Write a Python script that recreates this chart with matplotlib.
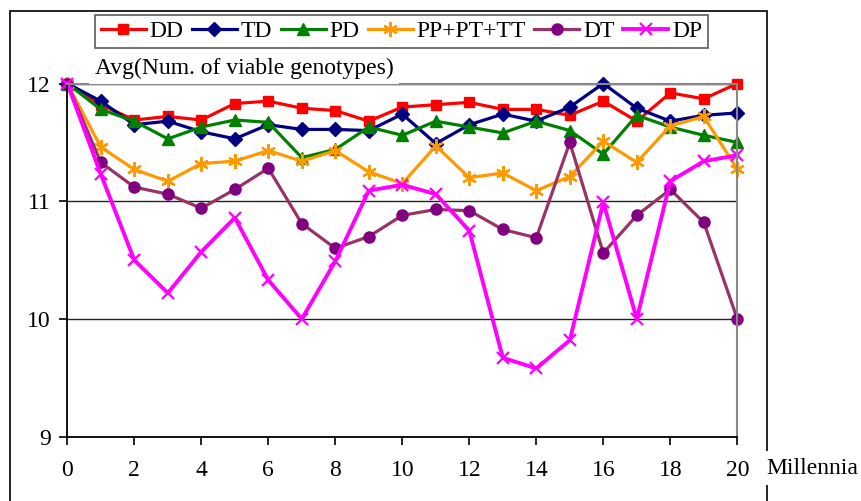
import matplotlib.pyplot as plt
from matplotlib.patches import Rectangle

plt.rcParams['font.family'] = ['Liberation Serif', 'DejaVu Serif']

FS = 17

millennia = list(range(21))

dd = [12.00, 11.82, 11.69, 11.72, 11.69, 11.83, 11.85, 11.79, 11.77, 11.68, 11.80,
      11.82, 11.84, 11.78, 11.78, 11.73, 11.85, 11.68, 11.92, 11.87, 12.00]
td = [12.00, 11.85, 11.65, 11.68, 11.59, 11.53, 11.65, 11.61, 11.61, 11.60, 11.74,
      11.49, 11.65, 11.74, 11.68, 11.80, 12.00, 11.79, 11.68, 11.73, 11.75]
pd_ = [12.00, 11.78, 11.68, 11.53, 11.63, 11.69, 11.67, 11.37, 11.44, 11.63, 11.56,
       11.68, 11.63, 11.58, 11.68, 11.60, 11.40, 11.73, 11.63, 11.56, 11.50]
pp = [12.00, 11.46, 11.27, 11.17, 11.32, 11.34, 11.43, 11.34, 11.43, 11.25, 11.15,
      11.47, 11.20, 11.24, 11.09, 11.21, 11.51, 11.33, 11.64, 11.72, 11.27]
dt = [12.00, 11.33, 11.12, 11.06, 10.94, 11.10, 11.28, 10.81, 10.60, 10.70, 10.88,
      10.93, 10.92, 10.76, 10.69, 11.50, 10.56, 10.88, 11.10, 10.82, 10.00]
dp = [12.00, 11.23, 10.50, 10.22, 10.57, 10.86, 10.33, 10.00, 10.49, 11.09, 11.14,
      11.06, 10.75, 9.67, 9.58, 9.82, 10.99, 10.00, 11.17, 11.34, 11.39]

fig = plt.figure(figsize=(8.61, 5.01), dpi=100)
ax = fig.add_axes([67.3 / 861, 64.3 / 501, 670 / 861, 353.2 / 501])

# outer chart border
fig.patches.append(Rectangle((10 / 861, -0.1), 757 / 861, (501 - 10.5) / 501 + 0.1,
                             transform=fig.transFigure, fill=False,
                             edgecolor='black', linewidth=1.2, zorder=0))

lw = 2.3
ax.plot(millennia, dd, color='#ff0000', lw=lw, marker='s', ms=7.5, label='DD', clip_on=False)
ax.plot(millennia, td, color='#000080', lw=lw, marker='D', ms=7.5, label='TD', clip_on=False)
ax.plot(millennia, pd_, color='#008000', lw=lw, marker='^', ms=8.5, label='PD', clip_on=False)
ax.plot(millennia, pp, color='#ff9900', lw=lw, marker=(6, 2, 0), ms=10.5, mew=1.6,
        label='PP+PT+TT', clip_on=False)
ax.plot(millennia, dt, color='#993366', lw=lw, marker='o', ms=8, mfc='#800080',
        mec='#800080', label='DT', clip_on=False)
ax.plot(millennia, dp, color='#ff00ff', lw=2.8, marker='x', ms=8.5, mew=1.6,
        label='DP', clip_on=False)

ax.set_xlim(0, 20)
ax.set_ylim(9, 12)
ax.set_xticks(range(0, 21, 2))
ax.set_yticks([9, 10, 11, 12])
ax.yaxis.grid(True, color='#222222', lw=1.0)
ax.set_axisbelow(True)
ax.tick_params(axis='both', labelsize=FS, direction='out', length=6, width=1.2,
               color='black')
ax.tick_params(axis='x', pad=11)
ax.tick_params(axis='y', pad=6)

for s in ['top', 'right']:
    ax.spines[s].set_color('#888888')
    ax.spines[s].set_linewidth(1.5)
for s in ['left', 'bottom']:
    ax.spines[s].set_color('black')
    ax.spines[s].set_linewidth(1.3)

leg = ax.legend(loc='upper left', bbox_to_anchor=(95 / 861, 1 - 15 / 501),
                bbox_transform=fig.transFigure, ncol=6, fontsize=FS, frameon=True,
                fancybox=False, edgecolor='#333333', handlelength=1.9,
                handletextpad=0.17, columnspacing=0.35, borderpad=0.25,
                borderaxespad=0)
leg.get_frame().set_linewidth(1.2)

fig.text(95 / 861, 1 - 68 / 501, 'Avg(Num. of viable genotypes)', fontsize=FS,
         va='center', ha='left',
         bbox=dict(facecolor='white', edgecolor='none', pad=4))

fig.text(766 / 861, 1 - 468 / 501, 'Millennia', fontsize=FS, va='center', ha='left',
         bbox=dict(facecolor='white', edgecolor='none', pad=5))

fig.savefig('out.png', dpi=100)
